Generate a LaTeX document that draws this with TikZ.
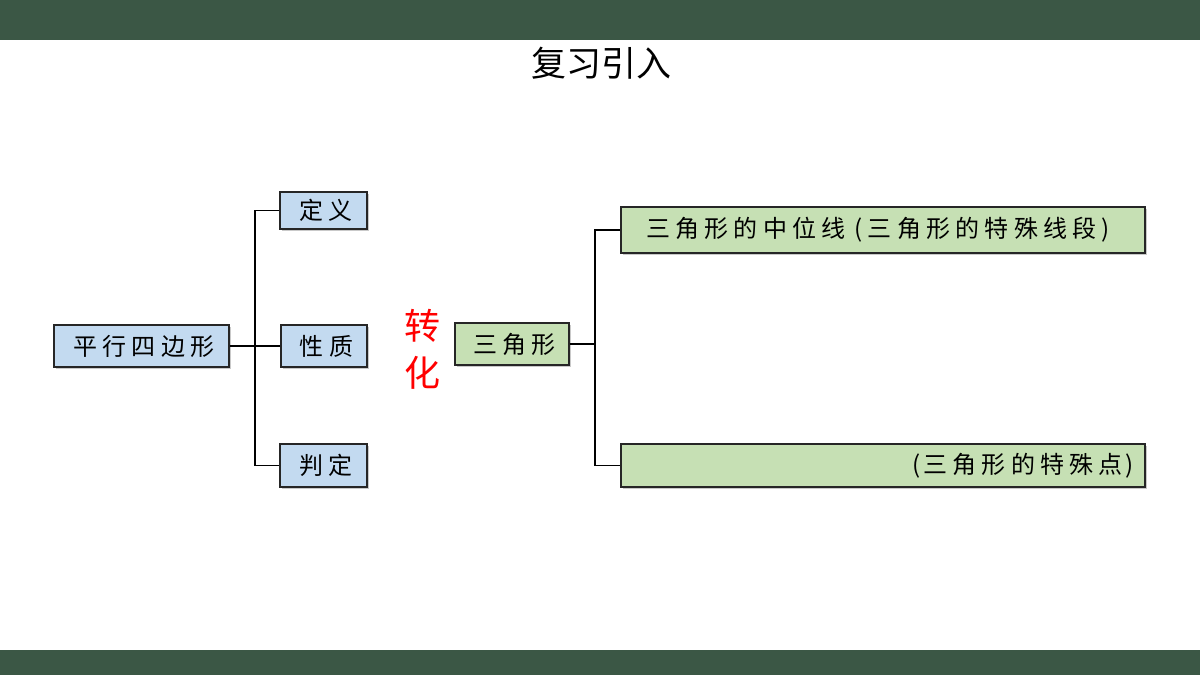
\documentclass[tikz,border=0pt]{standalone}
\usepackage{fontspec}
\newfontfamily\cjk{Noto Sans CJK SC}
\newfontfamily\cjkbox[LetterSpace=22]{Noto Sans CJK SC}
\usetikzlibrary{shadows}
\definecolor{bar}{HTML}{3B5745}
\definecolor{bluebox}{HTML}{C3DAF0}
\definecolor{greenbox}{HTML}{C6E0B4}
\tikzset{
  box/.style={draw=black!85, line width=1.3pt, minimum height=40pt, inner sep=0pt,
    font=\cjkbox\fontsize{24}{26}\selectfont, text=black,
    drop shadow={shadow xshift=2pt, shadow yshift=-2pt, opacity=0.35, fill=black!60}},
  bbox/.style={box, fill=bluebox},
  gbox/.style={box, fill=greenbox},
  conn/.style={draw=black, line width=1.8pt},
}
\begin{document}
\begin{tikzpicture}[x=1pt,y=-1pt]
\useasboundingbox (0,0) rectangle (1200,675);
\fill[white] (0,0) rectangle (1200,675);
\fill[bar] (0,0) rectangle (1200,40);
\fill[bar] (0,650) rectangle (1200,675);
\node[font=\cjk\fontsize{35}{38}\selectfont] (title) at (601,63) {复习引入};
% left tree
\node[bbox, minimum width=175pt, minimum height=42pt] (pxsbx) at (141.5,346) {\hspace*{5pt}平行四边形};
\node[bbox, minimum width=87pt, minimum height=37pt] (dy) at (323.5,210.5) {\hspace*{5pt}定义};
\node[bbox, minimum width=86pt, minimum height=42pt] (xz) at (324,346) {\hspace*{5pt}性质};
\node[bbox, minimum width=87pt, minimum height=43pt] (pd) at (323.5,465.5) {\hspace*{5pt}判定};
\coordinate (lj) at (255,346);
\draw[conn] (pxsbx.east) -- (lj);
\draw[conn] (lj) |- (dy.west);
\draw[conn] (lj) -- (xz.west);
\draw[conn] (lj) |- (pd.west);
% transform label
\node[text=red, font=\cjk\fontsize{36}{47}\selectfont, align=center] (zh) at (422,349) {转\\化};
% right tree
\node[gbox, minimum width=114pt, minimum height=42pt] (sjx) at (512,344) {\hspace*{5pt}三角形};
\node[gbox, minimum width=524pt, minimum height=46pt] (zwx) at (883,230) {\makebox[470pt][l]{\kern-2pt三角形的中位线\hspace{9pt}(\hspace{5pt}三角形的特殊线段\hspace{5pt})}};
\node[gbox, minimum width=524pt, minimum height=43pt] (tsd) at (883,465.5) {\makebox[500pt][r]{(\hspace{3pt}三角形的特殊点\hspace{3pt})\kern-1pt}};
\coordinate (rj) at (595,344);
\draw[conn] (sjx.east) -- (rj);
\draw[conn] (rj) |- (zwx.west);
\draw[conn] (rj) |- (tsd.west);
\end{tikzpicture}
\end{document}
